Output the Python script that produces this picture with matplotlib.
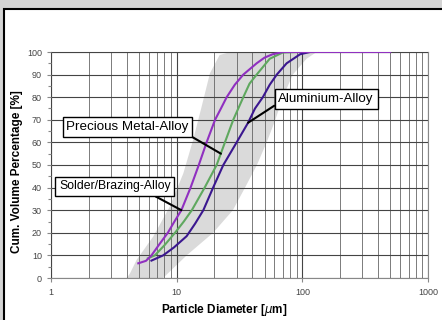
import numpy as np
import matplotlib
matplotlib.use('Agg')
import matplotlib.pyplot as plt
from matplotlib.patches import Rectangle
from matplotlib.ticker import MultipleLocator, LogLocator, NullFormatter, FixedLocator

plt.rcParams['font.family'] = ['Liberation Sans', 'DejaVu Sans']

# grey tolerance band (left edge bottom->top, right edge top->bottom)
band_left_x = [4.0, 4.25, 4.8, 6.5, 8.8, 11.3, 13.5, 15.8, 18.4, 22, 27]
band_left_y = [0, 2, 8, 18.3, 31.5, 46.3, 61, 75.8, 90.6, 98.7, 100]
band_right_x = [130, 108, 84, 70, 61, 52, 43.5, 35, 28, 19.5, 12, 7.8]
band_right_y = [100, 97, 90, 80, 70, 60, 50, 40, 30, 20, 10, 0]

# particle size distributions
solder_x = [4.95, 5.7, 6.3, 7.3, 8.5, 9.6, 10.9, 12.9, 15, 17.3, 20.2, 22.5, 25, 29, 33.9, 43.3, 50, 58, 70, 500]
solder_y = [6.5, 7.6, 10, 15, 20, 25, 30, 40, 50, 60, 70, 75, 80, 85.5, 90, 95, 97.5, 99, 100, 100]

precious_x = [5.9, 6.7, 8, 9.7, 11.4, 13.2, 16.7, 20.8, 24.2, 28.2, 33.9, 38, 43.3, 55, 70, 90]
precious_y = [8.7, 10, 14.5, 20, 25, 30, 40, 50, 60, 70, 80, 86, 90, 97, 99.8, 100]

alu_x = [6.3, 7.8, 9.5, 12, 14, 16.3, 19.5, 23.5, 30, 37, 42, 48.5, 55, 62.6, 75, 96, 115]
alu_y = [7.7, 10, 13.5, 18.5, 24, 30, 40, 50, 60, 68.7, 75, 80, 85.5, 90, 95, 99, 100]

fig = plt.figure(figsize=(4.42, 3.2), dpi=100, facecolor='#d4d4d4')
fig.patches.append(Rectangle((4/442, -0.1), 1.2, 311/320 + 0.1, transform=fig.transFigure,
                             facecolor='white', edgecolor='black', lw=1.5, zorder=-1))
ax = fig.add_axes([51/442, 42/320, 377/442, 226/320])
ax.set_facecolor('none')

ax.fill(band_left_x + band_right_x, band_left_y + band_right_y, color='#dadada', lw=0, zorder=1)

ax.plot(precious_x, precious_y, color='#5fa85f', lw=1.5, zorder=3)
ax.plot(alu_x, alu_y, color='#3b178f', lw=1.5, zorder=3)
ax.plot(solder_x, solder_y, color='#9030c0', lw=1.5, zorder=4)

ax.set_xscale('log')
ax.set_xlim(1, 1000)
ax.set_ylim(0, 100)
ax.yaxis.set_major_locator(MultipleLocator(10))
ax.yaxis.set_minor_locator(MultipleLocator(5))
ax.xaxis.set_major_locator(FixedLocator([1, 10, 100, 1000]))
ax.xaxis.set_minor_locator(LogLocator(base=10, subs=np.arange(2, 10)))
ax.xaxis.set_minor_formatter(NullFormatter())
ax.set_xticklabels(['1', '10', '100', '1000'])

ax.grid(which='major', axis='both', color='#444444', lw=0.8, zorder=2)
ax.grid(which='minor', axis='x', color='#666666', lw=0.6, zorder=2)
ax.set_axisbelow(False)
for s in ax.spines.values():
    s.set_color('#888888')
    s.set_linewidth(0.8)

ax.tick_params(axis='both', which='major', labelsize=6.5, labelcolor='#444444', color='#888888',
               length=3, width=0.8)
ax.tick_params(axis='y', which='minor', length=2, color='#888888', width=0.8)
ax.tick_params(axis='x', which='minor', length=0)
ax.tick_params(axis='x', pad=4)

ax.set_xlabel('Particle Diameter [$\\mu$m]', fontsize=8.5, fontweight='bold')
ax.xaxis.set_label_coords(0.459, -0.142)
ax.xaxis.label.set_verticalalignment('center')
ax.set_ylabel('Cum. Volume Percentage [%]', fontsize=8.5, fontweight='bold')
ax.yaxis.set_label_coords(-0.090, 0.469)
ax.yaxis.label.set_verticalalignment('center')

box = dict(boxstyle='square,pad=0.28', facecolor='white', edgecolor='black', lw=1)
line = dict(arrowstyle='-', color='black', lw=1.5, shrinkA=0, shrinkB=0)

ax.annotate('Precious Metal-Alloy', xy=(22.5, 55), xycoords='data', xytext=(0.203, 0.669),
            textcoords='axes fraction', ha='center', va='center', fontsize=9.6, bbox=box,
            arrowprops=dict(line, relpos=(0.97, 0)), zorder=5)
ax.annotate('Aluminium-Alloy', xy=(37, 68.7), xycoords='data', xytext=(0.730, 0.793),
            textcoords='axes fraction', ha='center', va='center', fontsize=9.6, bbox=box,
            arrowprops=dict(line, relpos=(0, 0.15)), zorder=5)
ax.annotate('Solder/Brazing-Alloy', xy=(10.9, 30), xycoords='data', xytext=(0.169, 0.405),
            textcoords='axes fraction', ha='center', va='center', fontsize=8.8, bbox=box,
            arrowprops=dict(line, relpos=(0.8, 0)), zorder=5)

fig.savefig('out.png', dpi=100, facecolor=fig.get_facecolor())
